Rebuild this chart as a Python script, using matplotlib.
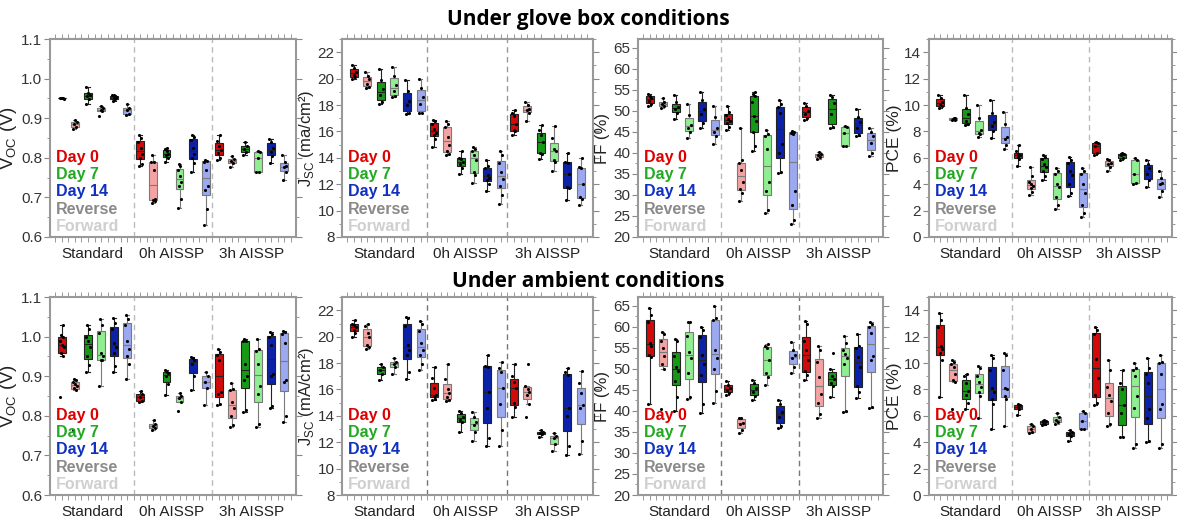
import matplotlib
matplotlib.use('Agg')
import matplotlib.pyplot as plt
from matplotlib.ticker import MultipleLocator, FixedLocator
import numpy as np

plt.rcParams['font.family'] = ['Liberation Sans', 'DejaVu Sans']

groups = ['Standard', '0h AISSP', '3h AISSP']
series = ['Day 0 Reverse', 'Day 0 Forward', 'Day 7 Reverse', 'Day 7 Forward',
          'Day 14 Reverse', 'Day 14 Forward']
legend_labels = ['Day 0', 'Day 7', 'Day 14', 'Reverse', 'Forward']

# ---------------- Under glove box conditions ----------------
voc_glove = [
    [0.95, 0.95, 0.951, 0.949, 0.95],
    [0.872, 0.878, 0.885, 0.89, 0.895],
    [0.935, 0.948, 0.955, 0.958, 0.965, 0.98],
    [0.905, 0.918, 0.922, 0.925, 0.93],
    [0.944, 0.948, 0.95, 0.953, 0.958, 0.96],
    [0.908, 0.912, 0.92, 0.925, 0.935],
    [0.78, 0.785, 0.8, 0.81, 0.825, 0.84, 0.85, 0.857],
    [0.685, 0.69, 0.693, 0.695, 0.77, 0.79, 0.79, 0.808],
    [0.79, 0.8, 0.806, 0.81, 0.818, 0.822, 0.825],
    [0.672, 0.695, 0.73, 0.74, 0.755, 0.77, 0.78, 0.785],
    [0.765, 0.788, 0.8, 0.81, 0.825, 0.845, 0.852, 0.857],
    [0.63, 0.67, 0.718, 0.73, 0.77, 0.79, 0.793, 0.795],
    [0.795, 0.8, 0.812, 0.82, 0.83, 0.843, 0.858],
    [0.776, 0.786, 0.792, 0.797, 0.805],
    [0.808, 0.815, 0.822, 0.83, 0.84],
    [0.765, 0.765, 0.8, 0.815, 0.818],
    [0.788, 0.805, 0.815, 0.825, 0.84, 0.847],
    [0.743, 0.765, 0.776, 0.78, 0.79, 0.806],
]
jsc_glove = [
    [20.0, 20.1, 20.3, 20.5, 20.8, 21.0],
    [19.3, 19.4, 19.6, 20.0, 20.2, 20.5],
    [18.1, 18.2, 18.8, 19.2, 19.9, 20.7],
    [18.6, 18.7, 19.1, 19.5, 20.2, 20.9],
    [17.3, 17.4, 18.0, 18.3, 19.1, 19.9],
    [17.4, 17.4, 18.1, 18.6, 19.3, 20.0],
    [14.8, 15.4, 15.7, 15.9, 16.2, 16.6, 16.8, 16.9],
    [14.2, 14.3, 14.5, 15.0, 15.6, 16.3, 16.6, 16.8],
    [12.8, 13.2, 13.5, 13.7, 13.9, 14.0, 14.5],
    [12.1, 12.7, 12.9, 13.8, 14.2, 14.5, 14.7, 14.8],
    [11.5, 12.0, 12.3, 12.5, 12.7, 13.2, 13.4, 13.8],
    [10.5, 11.2, 11.9, 12.4, 12.9, 13.6, 14.2, 14.5],
    [15.7, 16.0, 16.1, 16.6, 17.2, 17.4, 17.6],
    [16.8, 17.4, 17.6, 17.7, 18.0, 18.2],
    [13.9, 14.3, 14.4, 15.2, 15.7, 16.1, 16.5],
    [13.0, 13.7, 13.8, 14.5, 14.7, 15.5, 16.4],
    [10.8, 11.7, 11.8, 12.8, 13.6, 13.7, 14.4],
    [10.4, 10.9, 11.0, 12.0, 13.2, 13.3, 14.0],
]
ff_glove = [
    [51.2, 51.6, 52.4, 53.0, 53.6, 54.0],
    [50.6, 51.0, 51.5, 52.0, 53.0],
    [48.0, 49.5, 50.3, 50.8, 52.0, 53.8],
    [43.5, 45.0, 46.0, 46.5, 49.0, 51.5],
    [46.0, 47.0, 49.2, 50.5, 52.5, 54.5],
    [42.2, 44.0, 45.0, 46.0, 48.5, 51.0],
    [45.3, 46.2, 47.0, 47.5, 48.0, 49.0, 49.6, 51.0],
    [28.5, 30.5, 31.5, 33.0, 36.0, 37.5, 38.2, 46.0],
    [40.5, 41.5, 45.0, 47.5, 48.8, 52.0, 53.5, 54.0, 54.5],
    [25.8, 26.5, 31.0, 33.0, 40.8, 44.0, 44.5, 45.5],
    [35.2, 35.5, 40.0, 42.0, 49.5, 50.8, 51.5, 52.5],
    [23.0, 24.0, 27.5, 31.0, 44.5, 44.8, 45.0, 45.2],
    [47.8, 48.2, 49.3, 50.0, 51.2, 51.8],
    [38.6, 39.0, 39.5, 39.8, 40.2],
    [45.8, 46.2, 49.2, 51.8, 53.2, 53.8],
    [41.5, 41.6, 44.7, 46.2, 46.3],
    [44.0, 44.2, 45.8, 47.3, 48.6, 50.3],
    [39.3, 40.0, 42.3, 44.0, 45.0, 46.0],
]
pce_glove = [
    [9.8, 9.9, 10.1, 10.2, 10.5, 10.8],
    [8.85, 8.9, 8.95, 9.0, 9.05],
    [8.5, 8.6, 8.8, 9.3, 9.8, 10.8],
    [7.6, 7.8, 7.9, 8.1, 9.0, 10.0],
    [7.5, 8.0, 8.4, 8.7, 9.4, 10.4],
    [6.7, 7.0, 7.4, 7.6, 8.6, 9.5],
    [5.4, 5.9, 6.1, 6.2, 6.3, 6.5, 7.0],
    [3.2, 3.4, 3.7, 3.9, 4.0, 4.2, 4.6, 5.3],
    [4.3, 4.6, 5.0, 5.3, 5.5, 5.9, 6.1, 6.2],
    [2.1, 2.4, 3.0, 3.8, 4.0, 4.8, 5.0, 5.2],
    [3.1, 3.3, 4.0, 4.7, 5.0, 5.6, 5.8, 6.1],
    [1.5, 1.8, 2.4, 3.3, 4.0, 4.8, 5.0, 5.2],
    [6.2, 6.4, 6.9, 7.1, 7.2],
    [5.0, 5.3, 5.5, 5.6, 5.8, 5.9],
    [5.8, 6.0, 6.2, 6.3, 6.4],
    [4.0, 4.1, 4.8, 5.8, 6.0],
    [3.8, 4.3, 4.8, 5.2, 5.5, 5.8],
    [3.0, 3.5, 4.0, 4.1, 4.5, 5.0],
]

# ---------------- Under ambient conditions ----------------
voc_amb = [
    [0.848, 0.952, 0.96, 0.975, 0.98, 0.99, 1.0, 1.005, 1.03],
    [0.765, 0.865, 0.87, 0.875, 0.88, 0.885, 0.89, 0.893],
    [0.91, 0.928, 0.95, 0.975, 0.99, 1.0, 1.02, 1.03],
    [0.876, 0.94, 0.94, 0.95, 0.96, 1.01, 1.03, 1.045],
    [0.912, 0.925, 0.96, 0.975, 0.985, 1.02, 1.035, 1.048],
    [0.893, 0.93, 0.95, 0.97, 0.99, 1.03, 1.045, 1.055],
    [0.834, 0.838, 0.848, 0.855, 0.862],
    [0.765, 0.77, 0.775, 0.78, 0.79],
    [0.853, 0.88, 0.9, 0.908, 0.912, 0.915],
    [0.812, 0.835, 0.845, 0.85, 0.857],
    [0.866, 0.9, 0.93, 0.94, 0.946, 0.948],
    [0.828, 0.87, 0.885, 0.9, 0.91],
    [0.827, 0.83, 0.855, 0.86, 0.94, 0.955, 0.962, 0.968],
    [0.773, 0.778, 0.8, 0.82, 0.835, 0.865, 0.868, 0.883],
    [0.81, 0.815, 0.89, 0.9, 0.93, 0.99, 0.99, 0.995],
    [0.772, 0.78, 0.855, 0.875, 0.93, 0.965, 0.97, 0.995],
    [0.82, 0.825, 0.9, 0.905, 0.98, 1.0, 1.008, 1.012],
    [0.785, 0.8, 0.885, 0.89, 0.985, 1.008, 1.012, 1.015],
]
jsc_amb = [
    [20.0, 20.3, 20.5, 20.7, 20.9, 21.0, 21.3],
    [19.1, 19.2, 19.4, 20.0, 20.3, 20.8, 21.0],
    [16.7, 17.2, 17.5, 17.7, 17.9],
    [17.2, 17.7, 17.9, 18.1, 18.4],
    [16.8, 17.3, 18.6, 19.0, 19.4, 20.8, 21.4, 21.5],
    [17.5, 17.9, 18.6, 19.0, 19.5, 20.4, 21.0, 21.2],
    [15.2, 15.3, 15.5, 15.6, 16.1, 16.9, 17.7],
    [15.1, 15.2, 15.4, 15.7, 16.0, 16.8, 17.9],
    [12.8, 13.5, 13.7, 13.9, 14.2, 14.4],
    [12.1, 12.8, 13.3, 13.5, 13.9, 14.3],
    [11.7, 12.3, 14.6, 15.8, 17.7, 17.8, 18.6],
    [11.7, 12.9, 14.9, 16.1, 17.3, 17.6, 18.1],
    [13.9, 14.7, 15.0, 16.1, 16.6, 17.0, 17.9],
    [13.9, 14.9, 15.6, 15.8, 16.0, 16.3, 17.9],
    [12.4, 12.6, 12.7, 12.8, 12.9],
    [11.3, 11.9, 12.3, 12.5, 12.7],
    [11.0, 11.7, 14.0, 14.6, 17.1, 17.3, 17.6],
    [11.1, 12.1, 14.6, 14.8, 15.7, 16.5, 17.4],
]
ff_amb = [
    [41.7, 52.8, 53.2, 55.5, 56.0, 61.0, 62.8, 64.5],
    [40.5, 50.0, 51.0, 53.0, 55.0, 56.5, 58.3, 58.8],
    [40.0, 43.3, 47.0, 49.5, 50.5, 53.0, 56.5, 57.0],
    [42.8, 43.3, 49.0, 52.5, 54.0, 57.8, 61.0, 61.2],
    [39.5, 41.5, 48.5, 51.0, 53.3, 57.5, 59.3, 59.8],
    [41.8, 44.8, 50.0, 52.5, 54.5, 61.5, 62.0, 64.8],
    [43.8, 44.2, 45.0, 45.5, 46.2, 47.0],
    [34.8, 35.5, 36.8, 37.2, 38.2, 38.4],
    [42.5, 43.5, 44.5, 45.5, 46.5, 47.3],
    [46.2, 48.0, 49.0, 52.0, 55.0, 55.5, 55.8],
    [36.0, 36.5, 38.5, 39.8, 41.5, 42.5],
    [49.0, 50.5, 52.5, 53.2, 54.5, 56.3],
    [47.3, 48.5, 49.5, 52.0, 54.5, 56.5, 60.5, 61.3],
    [38.3, 39.3, 41.8, 44.0, 48.0, 51.5, 54.5, 55.5],
    [43.3, 45.8, 46.5, 47.5, 48.3, 50.0, 53.7],
    [39.8, 40.0, 51.0, 52.5, 53.5, 54.5, 56.0, 57.7],
    [43.0, 44.5, 46.0, 50.5, 52.8, 55.0, 55.5, 58.2],
    [40.7, 41.0, 52.0, 53.0, 58.5, 60.0, 60.5, 61.0],
]
pce_amb = [
    [7.4, 10.2, 10.8, 11.1, 11.3, 12.7, 13.3, 13.8],
    [6.5, 8.6, 8.7, 9.2, 9.7, 9.9, 10.1, 10.2],
    [6.5, 7.0, 7.6, 7.9, 8.5, 9.0, 9.2],
    [5.8, 7.5, 7.8, 8.2, 8.6, 9.0, 9.6, 9.8],
    [5.0, 6.9, 7.3, 7.8, 8.1, 9.5, 10.4, 10.6],
    [5.2, 7.3, 7.5, 8.0, 8.1, 9.5, 10.6, 10.8],
    [6.1, 6.5, 6.7, 6.8, 6.9],
    [4.7, 4.8, 5.0, 5.2, 5.4],
    [5.3, 5.4, 5.5, 5.6, 5.7],
    [5.4, 5.5, 5.7, 5.9, 6.2],
    [4.1, 4.5, 4.6, 4.8, 4.9],
    [5.0, 5.0, 5.6, 6.2, 6.4],
    [6.8, 7.0, 7.6, 8.9, 10.3, 12.2, 12.5, 12.7],
    [5.2, 5.4, 6.2, 7.1, 7.6, 8.2, 9.5, 10.2],
    [4.4, 4.4, 6.2, 6.8, 8.0, 8.5, 9.5],
    [3.6, 3.9, 6.6, 7.5, 9.0, 9.5, 9.6, 10.0],
    [4.0, 4.1, 5.8, 6.5, 8.5, 9.2, 9.6, 10.4],
    [3.6, 3.9, 6.5, 6.9, 9.2, 10.0, 10.1, 10.6],
]

# ---------------- styling ----------------
fills = ['#d10a0a', '#f5a2a2', '#169a16', '#8fee8f', '#0b22a8', '#9ba8f2']
edges = ['#222222', '#7a7a7a', '#222222', '#7a7a7a', '#222222', '#7a7a7a']
legend_colors = ['#dd0000', '#22a822', '#1030c0', '#8a8a8a', '#cfcfcf']
jitter = [-0.12, 0.10, -0.04, 0.14, 0.02, -0.15, 0.07, -0.08, 0.12]

fig = plt.figure(figsize=(11.77, 5.18), dpi=100)

lefts = [0.0425, 0.2906, 0.542, 0.789]
widths = [0.209, 0.213, 0.208, 0.207]
bottoms = [0.5425, 0.0444]
height = 0.382
label_x = [-0.125, -0.105, -0.115, -0.11]
label_size = [13.5, 12, 12, 12.5]

panels = [
    (voc_glove, 'V$_{\\mathregular{OC}}$ (V)', (0.6, 1.1), 0.1, 0.05, '#bbbbbb', '{:.1f}'),
    (jsc_glove, 'J$_{\\mathregular{SC}}$ (ma/cm²)', (8, 23), 2, 1, '#999999', '{:.0f}'),
    (ff_glove, 'FF (%)', (20, 67), 5, 2.5, '#bbbbbb', '{:.0f}'),
    (pce_glove, 'PCE (%)', (0, 15), 2, 1, '#bbbbbb', '{:.0f}'),
    (voc_amb, 'V$_{\\mathregular{OC}}$ (V)', (0.6, 1.1), 0.1, 0.05, '#bbbbbb', '{:.1f}'),
    (jsc_amb, 'J$_{\\mathregular{SC}}$ (mA/cm²)', (8, 23), 2, 1, '#777777', '{:.0f}'),
    (ff_amb, 'FF (%)', (20, 67), 5, 2.5, '#777777', '{:.0f}'),
    (pce_amb, 'PCE (%)', (0, 15), 2, 1, '#bbbbbb', '{:.0f}'),
]

positions = np.arange(1, 19)
half_positions = np.arange(0.5, 19.0, 0.5)
tick_col = '#888888'

for idx, (data, ylabel, ylim, ymaj, ymin, vcol, fmt) in enumerate(panels):
    row, col = divmod(idx, 4)
    ax = fig.add_axes([lefts[col], bottoms[row], widths[col], height])
    bp = ax.boxplot(data, positions=positions, widths=0.6, whis=1.5,
                    showfliers=False, patch_artist=True, zorder=2)
    for i, box in enumerate(bp['boxes']):
        k = i % 6
        box.set_facecolor(fills[k])
        box.set_edgecolor(edges[k])
        box.set_linewidth(0.8)
        for part in ('whiskers', 'caps'):
            for ln in bp[part][2 * i:2 * i + 2]:
                ln.set_color(edges[k])
                ln.set_linewidth(0.8)
        for ln in bp['caps'][2 * i:2 * i + 2]:
            xd = ln.get_xdata()
            c = (xd[0] + xd[1]) / 2
            ln.set_xdata([c - 0.12, c + 0.12])
        bp['medians'][i].set_color(edges[k])
        bp['medians'][i].set_linewidth(0.8)
        vals = data[i]
        xs = [positions[i] + jitter[j % len(jitter)] for j in range(len(vals))]
        ax.scatter(xs, vals, s=5, color='black', zorder=3, linewidths=0)

    for xv in (6.5, 12.5):
        ax.axvline(xv, color=vcol, ls=(0, (4, 3)), lw=1.0, zorder=1)

    ax.set_xlim(0.1, 18.9)
    ax.set_ylim(*ylim)
    ax.yaxis.set_major_locator(MultipleLocator(ymaj))
    ax.yaxis.set_minor_locator(MultipleLocator(ymin))
    ax.yaxis.set_major_formatter(matplotlib.ticker.FuncFormatter(lambda v, p, f=fmt: f.format(v)))
    ax.xaxis.set_major_locator(FixedLocator([3.3, 9.4, 15.5]))
    ax.set_xticklabels(groups)
    ax.xaxis.set_minor_locator(FixedLocator(list(half_positions)))
    ax.tick_params(axis='x', which='major', length=0, labelsize=11, colors='#222222', pad=7)
    ax.tick_params(axis='x', which='minor', length=3.5, direction='out', top=True, bottom=True,
                   color=tick_col)
    ax.tick_params(axis='y', which='major', length=4, direction='out', left=True, right=True,
                   labelsize=11, colors='#333333', color=tick_col, pad=1.5)
    ax.tick_params(axis='y', which='minor', length=2.5, direction='out', left=True, right=True,
                   color=tick_col)
    ax.tick_params(axis='y', labelcolor='#333333')
    for sp in ax.spines.values():
        sp.set_color('#999999')
        sp.set_linewidth(1.5)
    ax.set_ylabel(ylabel, fontsize=label_size[col], color='#222222')
    ax.yaxis.set_label_coords(label_x[col], 0.5)

    ys = [0.40, 0.315, 0.228, 0.141, 0.055]
    for lab, lc, yy in zip(legend_labels, legend_colors, ys):
        ax.text(0.025, yy, lab, transform=ax.transAxes, color=lc, fontsize=11.5,
                fontweight='bold', va='center', ha='left', zorder=4)

fig.text(0.5, 0.963, 'Under glove box conditions', ha='center', va='center',
         fontsize=15, fontweight='bold', family=['Open Sans', 'DejaVu Sans'])
fig.text(0.5, 0.457, 'Under ambient conditions', ha='center', va='center',
         fontsize=15, fontweight='bold', family=['Open Sans', 'DejaVu Sans'])

fig.savefig('out.png', dpi=100)
